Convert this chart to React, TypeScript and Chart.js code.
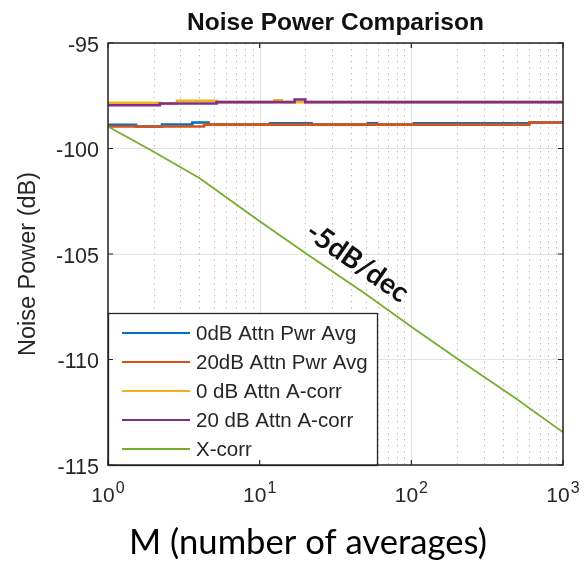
import React, { useEffect, useRef } from 'react';
import { Chart, registerables } from 'chart.js';

Chart.register(...registerables);

// ---------- text ----------
const TITLE = 'Noise Power Comparison';
const X_TITLE = 'M (number of averages)';
const Y_TITLE = 'Noise Power (dB)';
const SLOPE_LABEL = '-5dB/dec';
const SLOPE_LABEL_M = 44;
const SLOPE_LABEL_DB = -105.4;

// ---------- axes ----------
const X_MIN = 1;
const X_MAX = 1000;
const Y_MIN = -115;
const Y_MAX = -95;
const Y_STEP = 5;
const X_DECADES = [1, 10, 100, 1000];
const X_DECADE_EXP = ['0', '1', '2', '3'];
const X_MINOR = [2, 3, 4, 5, 6, 7, 8, 9, 20, 30, 40, 50, 60, 70, 80, 90, 200, 300, 400, 500, 600, 700, 800, 900];

// ---------- series ----------
const SERIES_LABELS = ['0dB Attn Pwr Avg', '20dB Attn Pwr Avg', '0 dB Attn A-corr', '20 dB Attn A-corr', 'X-corr'];
const SERIES_COLORS = ['#0072BD', '#D95319', '#EDB120', '#7E2F8E', '#77AC30'];

const PWR0_M = [1, 1.53, 2.27, 3.6, 4.6, 11.7, 22, 52, 59, 104, 600, 1000];
const PWR0_DB = [-98.88, -98.96, -98.86, -98.77, -98.86, -98.81, -98.86, -98.8, -98.86, -98.81, -98.77, -98.77];

const PWR20_M = [1, 4.3, 600, 1000];
const PWR20_DB = [-98.96, -98.87, -98.77, -98.77];

const ACORR0_M = [1, 2.2, 2.85, 5.2, 12.5, 14, 1000];
const ACORR0_DB = [-97.84, -97.87, -97.74, -97.8, -97.72, -97.8, -97.8];

const ACORR20_M = [1, 2.2, 5.2, 17, 20, 1000];
const ACORR20_DB = [-97.95, -97.87, -97.8, -97.68, -97.8, -97.8];

const XCORR_M = [1, 2, 4, 10, 20, 50, 100, 200, 500, 1000];
const XCORR_DB = [-98.96, -100.15, -101.4, -103.45, -104.95, -106.9, -108.45, -109.95, -111.9, -113.45];

const toPts = (xs: number[], ys: number[]) => xs.map((x, i) => ({ x, y: ys[i] }));

const FONT = '"Liberation Sans", Arial, sans-serif';
const TEXT = '#262626';

const decor = {
  id: 'decor',
  beforeDatasetsDraw(chart: any) {
    const { ctx, chartArea: a, scales } = chart;
    const x = scales.x;
    ctx.save();
    ctx.strokeStyle = '#e2e2e2';
    ctx.lineWidth = 1;
    for (const v of X_DECADES) {
      const px = Math.round(x.getPixelForValue(v)) + 0.5;
      ctx.beginPath();
      ctx.moveTo(px, a.top);
      ctx.lineTo(px, a.bottom);
      ctx.stroke();
    }
    ctx.strokeStyle = '#bdbdbd';
    ctx.setLineDash([1.5, 4.5]);
    for (const v of X_MINOR) {
      const px = Math.round(x.getPixelForValue(v)) + 0.5;
      ctx.beginPath();
      ctx.moveTo(px, a.top);
      ctx.lineTo(px, a.bottom);
      ctx.stroke();
    }
    ctx.restore();
  },
  afterDatasetsDraw(chart: any) {
    const { ctx, chartArea: a, scales } = chart;
    const x = scales.x;
    const y = scales.y;
    ctx.save();

    // slope annotation
    {
      const px = x.getPixelForValue(SLOPE_LABEL_M);
      const py = y.getPixelForValue(SLOPE_LABEL_DB);
      const slopePx = (y.getPixelForValue(-110) - y.getPixelForValue(-105)) / (x.getPixelForValue(100) - x.getPixelForValue(10));
      ctx.translate(px, py);
      ctx.rotate(Math.atan(slopePx));
      ctx.font = 'bold 30px Lato, "Open Sans", sans-serif';
      const w = ctx.measureText(SLOPE_LABEL).width;
      const size = (30 * 118) / w;
      ctx.font = `bold ${size}px Lato, "Open Sans", sans-serif`;
      ctx.fillStyle = '#111';
      ctx.textAlign = 'center';
      ctx.textBaseline = 'middle';
      ctx.fillText(SLOPE_LABEL, 0, 0);
      ctx.setTransform(1, 0, 0, 1, 0, 0);
    }

    // legend
    const legW = 269;
    const legH = 152;
    const legL = a.left;
    const legT = a.bottom - legH;
    ctx.fillStyle = '#fff';
    ctx.fillRect(legL, legT, legW, legH);
    ctx.strokeStyle = TEXT;
    ctx.lineWidth = 1.3;
    ctx.strokeRect(legL + 0.5, legT + 0.5, legW, legH);
    chart.data.datasets.forEach((ds: any, i: number) => {
      const cy = legT + 20 + i * 29;
      ctx.strokeStyle = ds.borderColor;
      ctx.lineWidth = 2;
      ctx.beginPath();
      ctx.moveTo(legL + 14, cy);
      ctx.lineTo(legL + 82, cy);
      ctx.stroke();
      ctx.fillStyle = TEXT;
      ctx.font = `20.5px ${FONT}`;
      ctx.textAlign = 'left';
      ctx.textBaseline = 'middle';
      ctx.fillText(ds.label, legL + 88, cy + 1);
    });

    // plot box
    ctx.strokeStyle = TEXT;
    ctx.lineWidth = 1.5;
    ctx.strokeRect(a.left, a.top, a.right - a.left, a.bottom - a.top);

    // inward tick marks
    ctx.lineWidth = 1.2;
    for (const v of X_DECADES) {
      const px = x.getPixelForValue(v);
      ctx.beginPath();
      ctx.moveTo(px, a.bottom);
      ctx.lineTo(px, a.bottom - 5);
      ctx.moveTo(px, a.top);
      ctx.lineTo(px, a.top + 5);
      ctx.stroke();
    }
    for (let v = Y_MIN; v <= Y_MAX; v += Y_STEP) {
      const py = y.getPixelForValue(v);
      ctx.beginPath();
      ctx.moveTo(a.left, py);
      ctx.lineTo(a.left + 5, py);
      ctx.moveTo(a.right, py);
      ctx.lineTo(a.right - 5, py);
      ctx.stroke();
    }

    // x tick labels 10^n
    ctx.fillStyle = TEXT;
    ctx.textAlign = 'left';
    ctx.textBaseline = 'alphabetic';
    X_DECADES.forEach((v, i) => {
      const px = x.getPixelForValue(v);
      ctx.font = `21px ${FONT}`;
      const w1 = ctx.measureText('10').width;
      ctx.font = `16px ${FONT}`;
      const w2 = ctx.measureText(X_DECADE_EXP[i]).width;
      const start = px - (w1 + w2 + 1) / 2;
      ctx.font = `21px ${FONT}`;
      ctx.fillText('10', start, a.bottom + 37);
      ctx.font = `16px ${FONT}`;
      ctx.fillText(X_DECADE_EXP[i], start + w1 + 1, a.bottom + 28);
    });

    // title
    ctx.fillStyle = '#111';
    ctx.font = `bold 24.5px ${FONT}`;
    ctx.textAlign = 'center';
    ctx.fillText(TITLE, (a.left + a.right) / 2, a.top - 13);

    // y title
    ctx.save();
    ctx.translate(29, (a.top + a.bottom) / 2 + 10);
    ctx.rotate(-Math.PI / 2);
    ctx.font = `23.5px ${FONT}`;
    ctx.fillStyle = TEXT;
    ctx.textAlign = 'center';
    ctx.textBaseline = 'middle';
    ctx.fillText(Y_TITLE, 0, 0);
    ctx.restore();

    // x title
    ctx.font = '30px Lato, "Open Sans", sans-serif';
    const wx = ctx.measureText(X_TITLE).width;
    const sx = (30 * 358) / wx;
    ctx.font = `${sx}px Lato, "Open Sans", sans-serif`;
    ctx.fillStyle = '#000';
    ctx.textAlign = 'center';
    ctx.textBaseline = 'alphabetic';
    ctx.fillText(X_TITLE, a.left + 200, a.bottom + 89);

    ctx.restore();
  },
};

export default function App() {
  const ref = useRef<HTMLCanvasElement | null>(null);

  useEffect(() => {
    if (!ref.current) return;
    const xsList = [PWR0_M, PWR20_M, ACORR0_M, ACORR20_M, XCORR_M];
    const ysList = [PWR0_DB, PWR20_DB, ACORR0_DB, ACORR20_DB, XCORR_DB];
    const datasets = SERIES_LABELS.map((label, i) => ({
      label,
      data: toPts(xsList[i], ysList[i]),
      borderColor: SERIES_COLORS[i],
      backgroundColor: SERIES_COLORS[i],
      borderWidth: i === 4 ? 1.8 : 2.6,
      pointRadius: 0,
      stepped: i === 4 ? false : ('before' as const),
      tension: 0,
      fill: false,
      order: SERIES_LABELS.length - i,
    }));

    const chart = new Chart(ref.current, {
      type: 'line',
      data: { datasets },
      options: {
        animation: false,
        responsive: true,
        maintainAspectRatio: false,
        devicePixelRatio: 1,
        layout: { padding: { left: 0, right: 22, top: 43, bottom: 0 } },
        plugins: {
          legend: { display: false },
          title: { display: false },
          tooltip: { enabled: false },
        },
        scales: {
          x: {
            type: 'logarithmic',
            min: X_MIN,
            max: X_MAX,
            grid: { display: false },
            border: { display: false },
            ticks: { display: false },
            afterFit: (s: any) => {
              s.height = 96;
            },
          },
          y: {
            type: 'linear',
            min: Y_MIN,
            max: Y_MAX,
            grid: { color: '#e2e2e2', lineWidth: 1, drawTicks: false },
            border: { display: false },
            ticks: {
              stepSize: Y_STEP,
              padding: 9,
              color: TEXT,
              font: { family: FONT, size: 21.5 },
              labelOffset: 3,
            },
            afterFit: (s: any) => {
              s.width = 108;
            },
          },
        },
      },
      plugins: [decor],
    });
    return () => chart.destroy();
  }, []);

  return (
    <div style={{ position: 'fixed', left: 0, top: 0, width: 585, height: 561, background: '#fff' }}>
      <canvas ref={ref} />
    </div>
  );
}
